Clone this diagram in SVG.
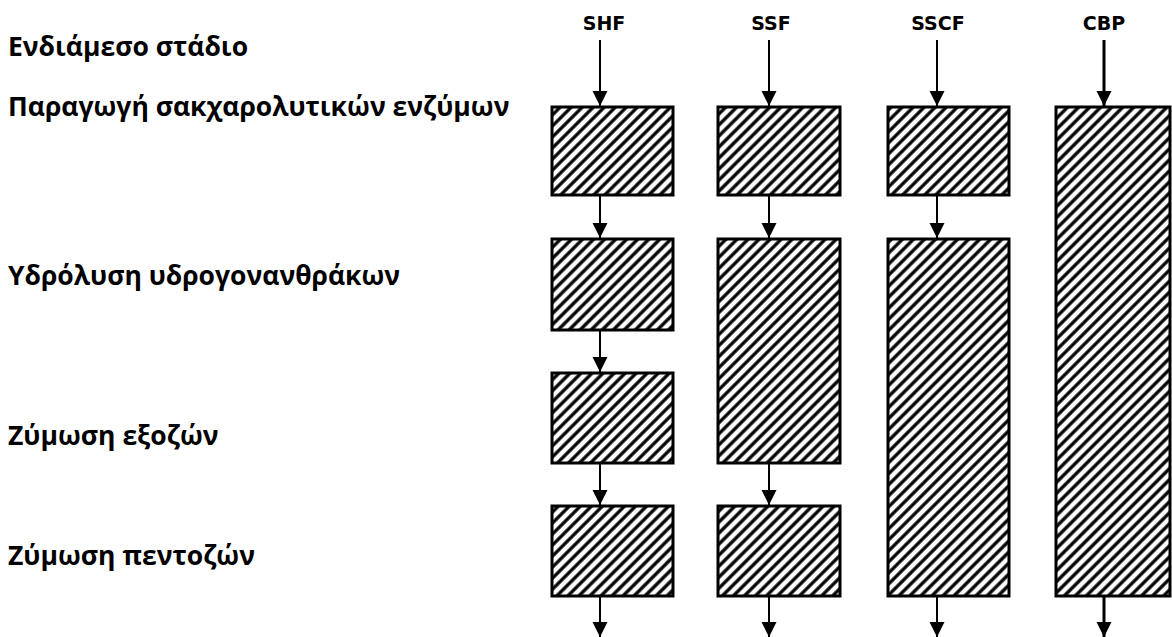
<svg xmlns="http://www.w3.org/2000/svg" width="1172" height="637" viewBox="0 0 1172 637">
<style>
.lbl{font-family:"Open Sans","DejaVu Sans",sans-serif;font-weight:bold;font-size:26.5px;fill:#000}
.hd{font-family:"DejaVu Sans",sans-serif;font-weight:bold;font-size:19px;fill:#000;text-anchor:middle}
.box{fill:url(#hatch);stroke:#000;stroke-width:3}
.ar{stroke:#000;stroke-width:2;fill:none;marker-end:url(#ah)}
.ar3{stroke:#000;stroke-width:3;fill:none;marker-end:url(#ah)}
</style>
<defs>
<pattern id="hatch" patternUnits="userSpaceOnUse" width="7.8" height="7.8" patternTransform="rotate(45)">
<rect width="7.8" height="7.8" fill="#fff"/>
<line x1="3.9" y1="0" x2="3.9" y2="7.8" stroke="#000" stroke-width="3.3"/>
</pattern>
<marker id="ah" markerUnits="userSpaceOnUse" markerWidth="17" markerHeight="17" refX="15" refY="8.5" orient="auto">
<path d="M0,1 L15,8.5 L0,16 Z" fill="#000"/>
</marker>
</defs>
<rect width="1172" height="637" fill="#fff"/>
<g id="labels">
<text class="lbl" x="8" y="56">Ενδιάμεσο στάδιο</text>
<text class="lbl" x="8" y="116">Παραγωγή σακχαρολυτικών ενζύμων</text>
<text class="lbl" x="8" y="285">Υδρόλυση υδρογονανθράκων</text>
<text class="lbl" x="8" y="445">Ζύμωση εξοζών</text>
<text class="lbl" x="8" y="565">Ζύμωση πεντοζών</text>
</g>
<g id="headers">
<text class="hd" x="604" y="30">SHF</text>
<text class="hd" x="771" y="30">SSF</text>
<text class="hd" x="938" y="30">SSCF</text>
<text class="hd" x="1104" y="30">CBP</text>
</g>
<g id="shf">
<rect class="box" x="552" y="107" width="121" height="88"/>
<rect class="box" x="552" y="239" width="121" height="91"/>
<rect class="box" x="552" y="373" width="121" height="90"/>
<rect class="box" x="552" y="506" width="121" height="90"/>
</g>
<g id="ssf">
<rect class="box" x="718" y="107" width="122" height="88"/>
<rect class="box" x="718" y="239" width="122" height="224"/>
<rect class="box" x="718" y="506" width="122" height="90"/>
</g>
<g id="sscf">
<rect class="box" x="888" y="107" width="121" height="88"/>
<rect class="box" x="888" y="239" width="121" height="357"/>
</g>
<g id="cbp">
<rect class="box" x="1056" y="107" width="114" height="489"/>
</g>
<g id="connectors">
<line class="ar" x1="600" y1="40" x2="600" y2="106"/>
<line class="ar" x1="600" y1="196" x2="600" y2="238"/>
<line class="ar" x1="600" y1="331" x2="600" y2="372"/>
<line class="ar" x1="600" y1="464" x2="600" y2="505"/>
<line class="ar" x1="600" y1="597" x2="600" y2="637"/>
<line class="ar" x1="769" y1="40" x2="769" y2="106"/>
<line class="ar" x1="769" y1="196" x2="769" y2="238"/>
<line class="ar" x1="769" y1="464" x2="769" y2="505"/>
<line class="ar" x1="769" y1="597" x2="769" y2="637"/>
<line class="ar" x1="937" y1="40" x2="937" y2="106"/>
<line class="ar" x1="937" y1="196" x2="937" y2="238"/>
<line class="ar" x1="937" y1="597" x2="937" y2="637"/>
<line class="ar3" x1="1104" y1="40" x2="1104" y2="106"/>
<line class="ar3" x1="1104" y1="597" x2="1104" y2="637"/>
</g>
</svg>
